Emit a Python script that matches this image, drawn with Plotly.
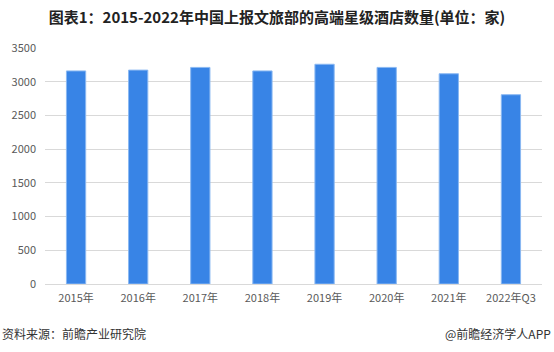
import plotly.graph_objects as go

categories = ["2015年", "2016年", "2017年", "2018年", "2019年", "2020年", "2021年", "2022年Q3"]
values = [3160, 3172, 3212, 3160, 3259, 3212, 3118, 2807]
y_ticks = [0, 500, 1000, 1500, 2000, 2500, 3000, 3500]

title = "图表1：2015-2022年中国上报文旅部的高端星级酒店数量(单位：家)"
source = "资料来源：前瞻产业研究院"
brand = "@前瞻经济学人APP"

font_cjk = "Noto Sans CJK SC"

fig = go.Figure(go.Bar(
    x=categories, y=values,
    marker=dict(color="#3884e6", line=dict(color="#8ab8f2", width=1)),
    width=0.31,
))

fig.update_layout(
    width=554, height=352,
    margin=dict(l=45, r=12, t=48, b=68),
    paper_bgcolor="white", plot_bgcolor="white",
    showlegend=False,
    font=dict(family=font_cjk, size=11, color="#595959"),
    title=dict(text="<b>" + title + "</b>", x=0.5, xanchor="center", y=1 - 18/352, yanchor="middle",
               font=dict(family=font_cjk, size=15, color="#222222")),
    xaxis=dict(showgrid=False, showline=True, linecolor="#d9d9d9", linewidth=1,
               ticks="", ticklabelstandoff=4, tickfont=dict(size=11, color="#595959")),
    yaxis=dict(range=[0, 3500], tickvals=y_ticks, showgrid=True, gridcolor="#d9d9d9",
               gridwidth=1, zeroline=False, ticks="", ticklabelstandoff=8,
               tickfont=dict(size=11, color="#595959")),
    annotations=[
        dict(text=source, xref="paper", yref="paper", x=-45/497, y=-49/236, xanchor="left",
             yanchor="middle", showarrow=False, font=dict(family=font_cjk, size=12, color="#333333")),
        dict(text=brand, xref="paper", yref="paper", x=(553-45)/497, y=-49/236, xanchor="right",
             yanchor="middle", showarrow=False, font=dict(family=font_cjk, size=12, color="#333333")),
    ],
)

fig.write_html("out.html")
